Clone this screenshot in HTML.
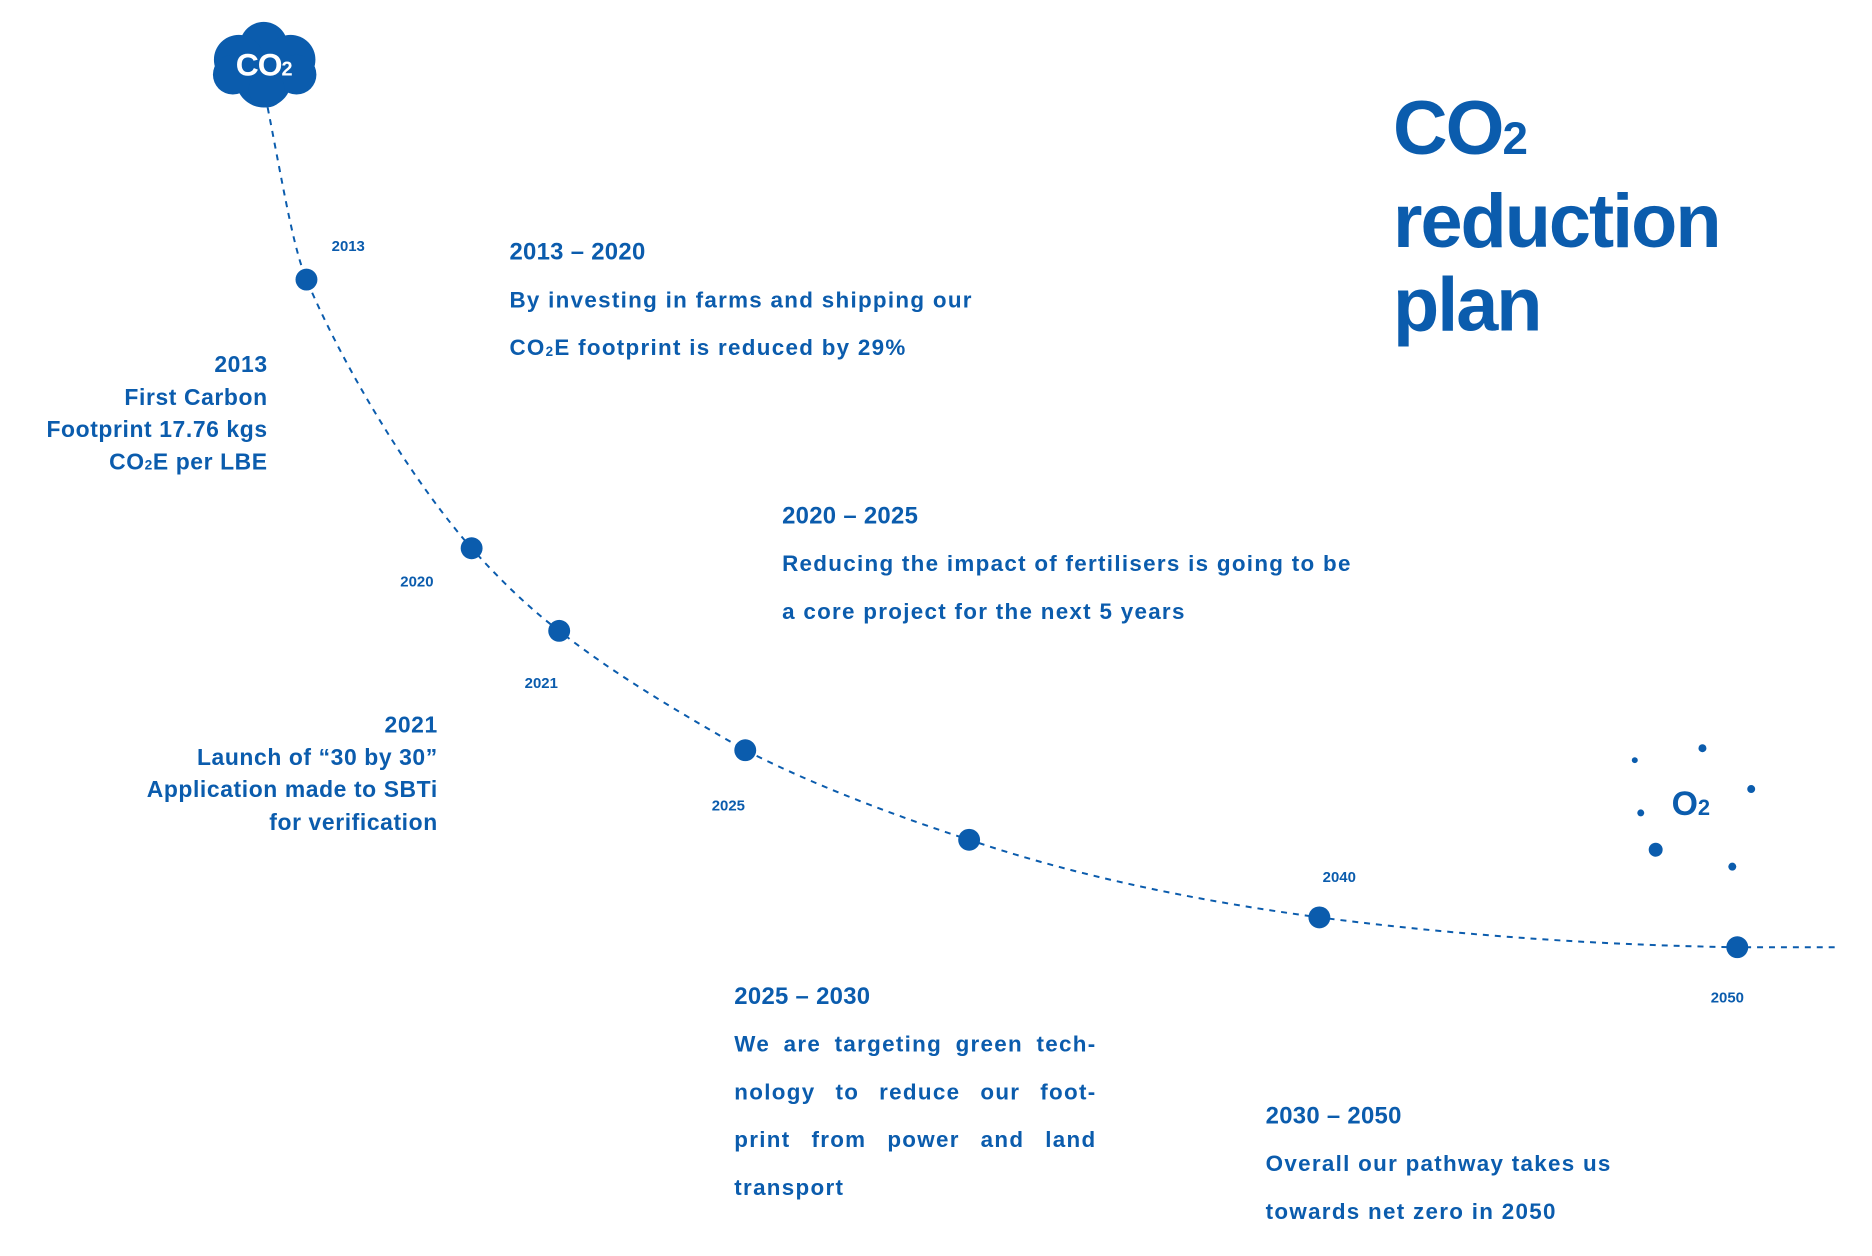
<!DOCTYPE html>
<html><head><meta charset="utf-8"><style>
html,body{margin:0;padding:0;background:#fff;}
body{width:1872px;height:1256px;position:relative;overflow:hidden;font-family:"Liberation Sans",sans-serif;color:#0b5cad;font-weight:bold;}
#w{position:absolute;left:0;top:0;width:1872px;height:1256px;transform:scale(0.995);transform-origin:0 0;}
.t{position:absolute;white-space:nowrap;}
.yr{position:absolute;font-size:15px;transform:translate(-50%,-50%);}
.h{font-size:24px;letter-spacing:0.3px;}
.b{font-size:22.5px;letter-spacing:1.3px;line-height:48px;}
.l{font-size:23px;letter-spacing:0.6px;line-height:32.5px;text-align:right;}
sub{font-size:0.6em;vertical-align:baseline;position:relative;top:0.05em;}
</style></head><body><div id="w">
<svg width="1872" height="1256" style="position:absolute;left:0;top:0">
<path d="M269,108 C285,190 295,250 308,281 C350,380 420,490 474,551 C500,580 530,610 562,634 C620,680 690,720 749,754 C820,790 900,820 974,844 C1080,880 1200,905 1326,922 C1480,942 1620,950 1746,952 L1845,952" fill="none" stroke="#0b5cad" stroke-width="2" stroke-dasharray="6 6"/>
<g fill="#0b5cad">
<circle cx="308" cy="281" r="11"/><circle cx="474" cy="551" r="11"/><circle cx="562" cy="634" r="11"/><circle cx="749" cy="754" r="11"/><circle cx="974" cy="844" r="11"/><circle cx="1326" cy="922" r="11"/><circle cx="1746" cy="952" r="11"/>
<circle cx="1643" cy="764" r="3"/><circle cx="1711" cy="752" r="4"/><circle cx="1760" cy="793" r="4"/><circle cx="1649" cy="817" r="3.5"/><circle cx="1664" cy="854" r="7"/><circle cx="1741" cy="871" r="4"/>
<circle cx="265" cy="46" r="24"/><circle cx="240" cy="60" r="25"/><circle cx="292" cy="60" r="25"/><circle cx="265" cy="80" r="28"/><circle cx="234" cy="75" r="20"/><circle cx="298" cy="75" r="20"/><circle cx="268" cy="90" r="18"/>
</g>
<text x="265" y="76" fill="#fff" font-family="Liberation Sans" font-weight="bold" font-size="32" text-anchor="middle" letter-spacing="-1">CO<tspan font-size="20">2</tspan></text>
</svg>
<div class="t" style="left:1400px;top:88px;font-size:76px;letter-spacing:-2px;line-height:84px;">CO<span style="font-size:46px">2</span><br>reduction<br>plan</div>
<div class="yr" style="left:350px;top:248px">2013</div>
<div class="yr" style="left:419px;top:585px">2020</div>
<div class="yr" style="left:544px;top:687px">2021</div>
<div class="yr" style="left:732px;top:810px">2025</div>
<div class="yr" style="left:1346px;top:882px">2040</div>
<div class="yr" style="left:1736px;top:1003px">2050</div>
<div class="t" style="left:1680px;top:789px;font-size:34px;">O<span style="font-size:22px">2</span></div>
<div class="t" style="right:1603px;top:350px;" ><div class="l">2013<br>First Carbon<br>Footprint 17.76 kgs<br>CO<sub>2</sub>E per LBE</div></div>
<div class="t" style="right:1432px;top:712px;"><div class="l">2021<br>Launch of “30 by 30”<br>Application made to SBTi<br>for verification</div></div>
<div class="t b" style="left:512px;top:230px;"><span class="h">2013 – 2020</span><br>By investing in farms and shipping our<br>CO<sub>2</sub>E footprint is reduced by 29%</div>
<div class="t b" style="left:786px;top:495px;"><span class="h">2020 – 2025</span><br>Reducing the impact of fertilisers is going to be<br>a core project for the next 5 years</div>
<div class="b" style="position:absolute;left:738px;top:978px;width:364px;"><div class="h" style="white-space:nowrap">2025 – 2030</div><div style="text-align:justify;text-align-last:justify;">We are targeting green tech-<br>nology to reduce our foot-<br>print from power and land</div><div>transport</div></div>
<div class="t b" style="left:1272px;top:1098px;"><span class="h">2030 – 2050</span><br>Overall our pathway takes us<br>towards net zero in 2050</div>
</div></body></html>
